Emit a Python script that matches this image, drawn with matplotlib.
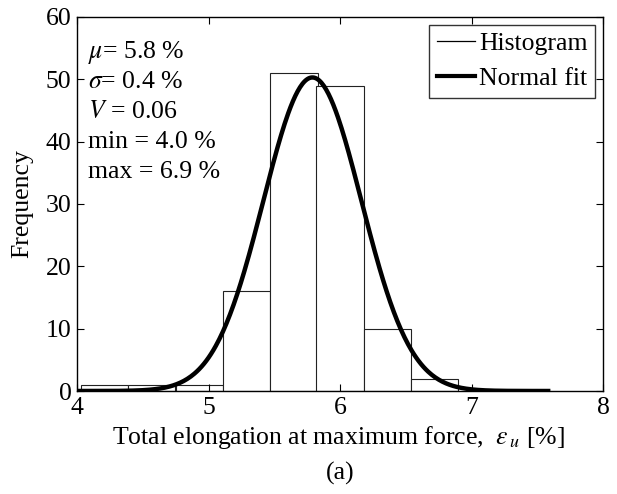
import numpy as np
import matplotlib
matplotlib.use("Agg")
import matplotlib.pyplot as plt
from matplotlib.lines import Line2D

plt.rcParams['font.family'] = ['Liberation Serif', 'DejaVu Serif']
plt.rcParams['mathtext.fontset'] = 'stix'

# histogram data
bin_left = [4.03, 4.39, 4.75, 5.11, 5.47, 5.82, 6.18, 6.54]
bin_width = 0.359
counts = [1, 1, 1, 16, 51, 49, 10, 2]

# normal fit parameters
mu = 5.79
sigma = 0.373
n_total = sum(counts)
x_fit_start, x_fit_end = 4.0, 7.6

stats_lines = [r'$\mu$= 5.8 %', r'$\sigma$= 0.4 %', r'$V$ = 0.06',
               'min = 4.0 %', 'max = 6.9 %']

FS = 18.5
W, H = 617, 494

fig = plt.figure(figsize=(W/100, H/100), dpi=100)
ax = fig.add_axes([77/W, 1 - 391/H, 526/W, 374/H])

ax.bar(bin_left, counts, width=bin_width, align='edge', facecolor='white',
       edgecolor='#222222', linewidth=0.8)

xf = np.linspace(x_fit_start, x_fit_end, 400)
yf = n_total * bin_width / (sigma * np.sqrt(2*np.pi)) * np.exp(-0.5*((xf-mu)/sigma)**2)
ax.plot(xf, yf, color='black', lw=3.2, solid_capstyle='butt')

ax.set_xlim(4, 8)
ax.set_ylim(0, 60)
ax.set_xticks([4, 5, 6, 7, 8])
ax.set_yticks([0, 10, 20, 30, 40, 50, 60])
ax.tick_params(direction='in', top=True, right=True, labelsize=FS, length=5, pad=4)
for s in ax.spines.values():
    s.set_linewidth(1.0)

fig.text(22/W, 1 - 204/H, 'Frequency', rotation=90, ha='center', va='center', fontsize=FS)
fig.text(338/W, 1 - 437/H,
         r'Total elongation at maximum force,  $\mathdefault{}\varepsilon_{\,u}$ [%]',
         ha='center', va='center', fontsize=FS)
fig.text(340/W, 1 - 473/H, '(a)', ha='center', va='center', fontsize=FS)

handles = [Line2D([], [], color='black', lw=0.9), Line2D([], [], color='black', lw=3)]
leg = ax.legend(handles, ['Histogram', 'Normal fit'], loc='upper right', fontsize=FS,
                frameon=True, fancybox=False, edgecolor='black', handlelength=1.5,
                handletextpad=0.15, borderpad=0.3, labelspacing=0.45, borderaxespad=0.3)
leg.get_frame().set_linewidth(1.0)

for i, line in enumerate(stats_lines):
    ax.text(0.021, 0.906 - i*0.08, line, transform=ax.transAxes, fontsize=FS,
            va='center', ha='left')

fig.savefig('out.png', dpi=100)
